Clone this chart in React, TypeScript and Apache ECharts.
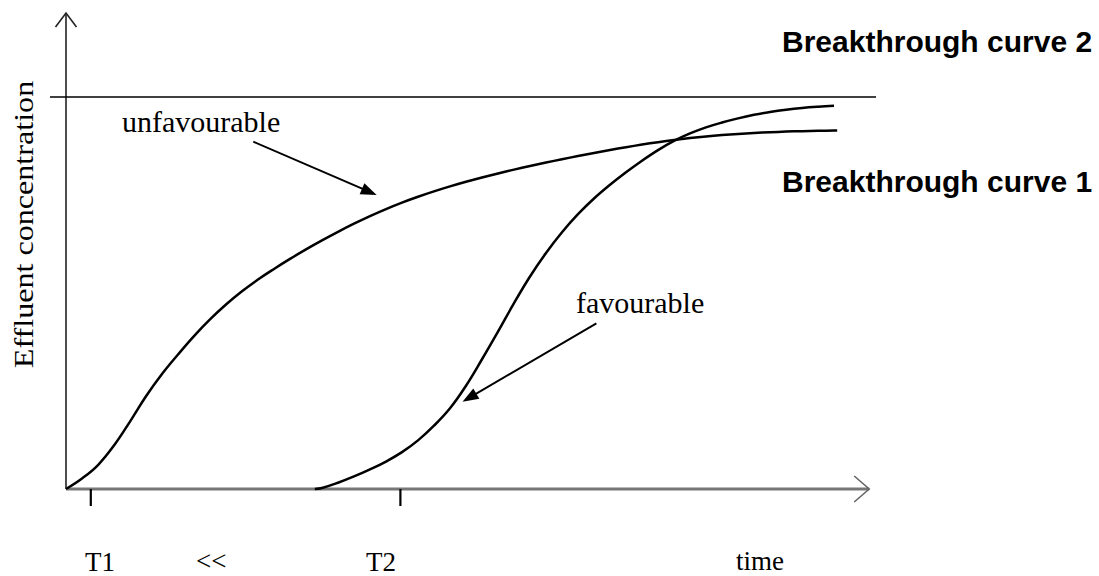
import React, { useEffect, useRef } from 'react';
import * as echarts from 'echarts';

// Breakthrough curve 1 ("unfavourable"), read every 2 time units
const unfavTime = [0, 2, 4, 6, 8, 10, 12, 14, 16, 18, 20, 22, 24, 26, 28, 30, 32, 34, 36, 38, 40, 42, 44, 46, 48, 50, 52, 54, 56, 58, 60, 62, 64, 66, 68, 70, 72, 74, 76, 78, 80, 82, 84, 86, 88, 90, 92, 94, 96, 96.4];
const unfavConc = [0, 0.0268, 0.0612, 0.111, 0.172, 0.2367, 0.2934, 0.3431, 0.3901, 0.4326, 0.4706, 0.5044, 0.5344, 0.5614, 0.587, 0.6113, 0.6343, 0.6561, 0.6767, 0.6961, 0.7141, 0.7306, 0.7455, 0.7592, 0.7719, 0.7837, 0.7947, 0.805, 0.8147, 0.8239, 0.8327, 0.8412, 0.8494, 0.8573, 0.8648, 0.8719, 0.8786, 0.8848, 0.8904, 0.8953, 0.8995, 0.903, 0.9059, 0.9083, 0.9102, 0.9117, 0.9129, 0.9138, 0.9144, 0.9145];

// Breakthrough curve 2 ("favourable")
const favTime = [31.1, 32, 34, 36, 38, 40, 42, 44, 46, 48, 50, 52, 54, 56, 58, 60, 62, 64, 66, 68, 70, 72, 74, 76, 78, 80, 82, 84, 86, 88, 90, 92, 94, 96];
const favConc = [0, 0.0026, 0.016, 0.032, 0.05, 0.07, 0.094, 0.124, 0.1615, 0.206, 0.2635, 0.331, 0.4015, 0.474, 0.542, 0.602, 0.655, 0.701, 0.741, 0.776, 0.808, 0.8375, 0.8645, 0.888, 0.907, 0.9225, 0.9349, 0.9455, 0.9545, 0.9617, 0.9675, 0.972, 0.9752, 0.9776];

// axis ticks and labels
const tickTimes = [3.1, 41.8];
const tickLabels = ['T1', 'T2'];
const saturationLevel = 1; // C0 reference line

const SERIF = '"Liberation Serif", "Times New Roman", serif';
const SANS = '"Liberation Sans", Arial, sans-serif';

function arrow(x1: number, y1: number, x2: number, y2: number, head: number, half: number) {
  const dx = x2 - x1, dy = y2 - y1;
  const len = Math.sqrt(dx * dx + dy * dy);
  const ux = dx / len, uy = dy / len;
  const bx = x2 - ux * head, by = y2 - uy * head;
  const px = -uy, py = ux;
  return [
    { type: 'line', z: 5, shape: { x1, y1, x2: bx + ux * 2, y2: by + uy * 2 }, style: { stroke: '#000', lineWidth: 2 } },
    { type: 'polygon', z: 5, shape: { points: [[x2, y2], [bx + px * half, by + py * half], [bx - px * half, by - py * half]] }, style: { fill: '#000' } },
  ];
}

export default function App() {
  const ref = useRef<HTMLDivElement>(null);
  useEffect(() => {
    const chart = echarts.init(ref.current!, null, { renderer: 'svg' });
    chart.setOption({
      animation: false,
      grid: { left: 66, right: 233, top: 97, bottom: 87 },
      xAxis: { type: 'value', min: 0, max: 100, show: false },
      yAxis: { type: 'value', min: 0, max: 1, show: false },
      series: [
        {
          name: 'Breakthrough curve 1', type: 'line', symbol: 'none', smooth: 0.4, clip: false, z: 3,
          data: unfavTime.map((t, i) => [t, unfavConc[i]]),
          lineStyle: { color: '#000', width: 2.5 },
        },
        {
          name: 'Breakthrough curve 2', type: 'line', symbol: 'none', smooth: 0.4, clip: false, z: 3,
          data: favTime.map((t, i) => [t, favConc[i]]),
          lineStyle: { color: '#000', width: 2.5 },
        },
      ],
    });
    const toPx = (x: number, y: number) => chart.convertToPixel({ gridIndex: 0 }, [x, y]) as number[];
    const [ox, oy] = toPx(0, 0);
    const [xEnd] = toPx(100.4, 0);
    const yTop = 13;
    const [cx1, cy] = toPx(-2, saturationLevel);
    const [cx2] = toPx(101.25, saturationLevel);

    const graphic: any[] = [
      // y axis
      { type: 'line', z: 1, shape: { x1: ox, y1: oy, x2: ox, y2: yTop }, style: { stroke: '#222', lineWidth: 1.6 } },
      { type: 'polyline', z: 1, shape: { points: [[ox - 10.5, yTop + 14], [ox, yTop], [ox + 10.5, yTop + 14]] }, style: { stroke: '#222', lineWidth: 1.6, fill: 'none' } },
      // x axis
      { type: 'line', z: 1, shape: { x1: ox, y1: oy, x2: xEnd, y2: oy }, style: { stroke: '#777', lineWidth: 3 } },
      { type: 'polyline', z: 1, shape: { points: [[xEnd - 15, oy - 13], [xEnd, oy], [xEnd - 15, oy + 13]] }, style: { stroke: '#666', lineWidth: 1.6, fill: 'none' } },
      // C0 line
      { type: 'line', z: 1, shape: { x1: cx1, y1: cy, x2: cx2, y2: cy }, style: { stroke: '#000', lineWidth: 1.6 } },
      // annotation arrows
      ...arrow(253.3, 141.7, 376.7, 195, 16, 6),
      ...arrow(596.4, 323.3, 462.5, 401.7, 16, 6),
    ];
    tickTimes.forEach((t) => {
      const [tx] = toPx(t, 0);
      graphic.push({ type: 'line', z: 2, shape: { x1: tx, y1: oy, x2: tx, y2: oy + 17 }, style: { stroke: '#000', lineWidth: 2.2 } });
    });
    const serifText = (text: string, x: number, y: number, size: number) => ({
      type: 'text', z: 10, x, y,
      style: { text, fill: '#000', fontSize: size, fontFamily: SERIF, textAlign: 'left', textVerticalAlign: 'middle' },
    });
    const sansText = (text: string, x: number, y: number) => ({
      type: 'text', z: 10, x, y,
      style: { text, fill: '#000', fontSize: 30, fontWeight: 'bold', fontFamily: SANS, textAlign: 'left', textVerticalAlign: 'middle' },
    });
    graphic.push(
      serifText('unfavourable', 122, 121, 30),
      serifText('favourable', 576, 302.5, 30),
      serifText(tickLabels[0], 85, 561.5, 27),
      serifText('<<', 196, 561, 27),
      serifText(tickLabels[1], 366, 561.5, 27),
      serifText('time', 736, 561, 27),
      sansText('Breakthrough curve 2', 782, 41.5),
      sansText('Breakthrough curve 1', 782, 181.5),
      {
        type: 'text', z: 10, x: 24, y: 224.5, rotation: Math.PI / 2, scaleX: 1.19,
        style: { text: 'Effluent concentration', fill: '#000', fontSize: 27, fontFamily: SERIF, textAlign: 'center', textVerticalAlign: 'middle' },
      },
    );
    chart.setOption({ graphic });
    return () => chart.dispose();
  }, []);
  return <div ref={ref} style={{ position: 'absolute', left: 0, top: 0, width: 1099, height: 576, background: '#fff' }} />;
}
